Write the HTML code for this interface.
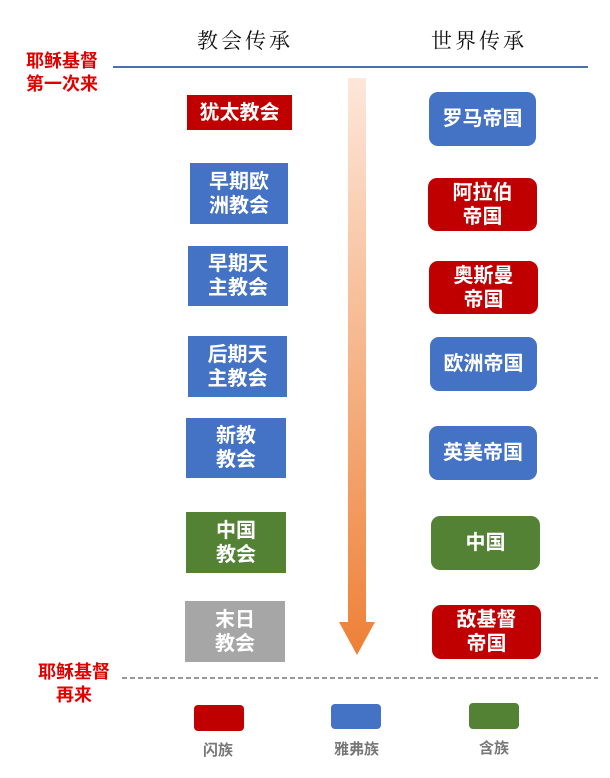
<!DOCTYPE html>
<html><head><meta charset="utf-8"><style>
body{margin:0;width:610px;height:778px;background:#fff;position:relative;overflow:hidden;font-family:"Liberation Sans","Noto Sans CJK SC",sans-serif}
.a{position:absolute}
.b{position:absolute;color:#fff;font-weight:bold;font-size:20px;line-height:24px;display:flex;align-items:center;justify-content:center;text-align:center}
.r{border-radius:9px}
.red{background:#c00000}.blue{background:#4472c4}.green{background:#548235}.gray{background:#a6a6a6}
.h{font-family:"Noto Serif CJK SC",serif;font-size:21px;letter-spacing:3px;color:#111}
.rt{color:#e00000;font-weight:bold;font-size:18px;line-height:23px;text-align:center}
.lg{color:#777;font-size:15px;font-weight:bold}
</style></head><body>
<div class="a h" style="left:197px;top:25px">教会传承</div>
<div class="a h" style="left:431px;top:25px">世界传承</div>
<div class="a rt" style="left:24px;top:50px;width:76px">耶稣基督<br>第一次来</div>
<div class="a" style="left:113px;top:66px;width:475px;height:2px;background:#4a72a8"></div>

<div class="b red" style="left:187px;top:95px;width:105px;height:35px">犹太教会</div>
<div class="b blue" style="left:190px;top:163px;width:98px;height:61px">早期欧<br>洲教会</div>
<div class="b blue" style="left:188px;top:246px;width:100px;height:60px">早期天<br>主教会</div>
<div class="b blue" style="left:188px;top:336px;width:99px;height:61px">后期天<br>主教会</div>
<div class="b blue" style="left:186px;top:418px;width:100px;height:60px">新教<br>教会</div>
<div class="b green" style="left:186px;top:512px;width:100px;height:61px">中国<br>教会</div>
<div class="b gray" style="left:185px;top:601px;width:100px;height:61px">末日<br>教会</div>

<div class="b blue r" style="left:429px;top:92px;width:107px;height:54px">罗马帝国</div>
<div class="b red r" style="left:428px;top:178px;width:109px;height:53px">阿拉伯<br>帝国</div>
<div class="b red r" style="left:429px;top:261px;width:109px;height:53px">奥斯曼<br>帝国</div>
<div class="b blue r" style="left:430px;top:337px;width:107px;height:54px">欧洲帝国</div>
<div class="b blue r" style="left:429px;top:426px;width:108px;height:54px">英美帝国</div>
<div class="b green r" style="left:431px;top:516px;width:109px;height:54px">中国</div>
<div class="b red r" style="left:432px;top:605px;width:109px;height:54px">敌基督<br>帝国</div>

<svg class="a" style="left:0;top:0" width="610" height="778">
<defs><linearGradient id="g" x1="0" y1="0" x2="0" y2="1"><stop offset="0" stop-color="#fde7da"/><stop offset="1" stop-color="#ee8036"/></linearGradient></defs>
<path d="M348 78 H366 V622 H375 L357 655 L339 622 H348 Z" fill="url(#g)"/>
<line x1="122" y1="678" x2="598" y2="678" stroke="#777" stroke-width="1.5" stroke-dasharray="5,3"/>
</svg>
<div class="a rt" style="left:36px;top:661px;width:76px">耶稣基督<br>再来</div>

<div class="a red" style="left:194px;top:705px;width:50px;height:26px;border-radius:4px"></div>
<div class="a blue" style="left:331px;top:704px;width:50px;height:25px;border-radius:4px"></div>
<div class="a green" style="left:469px;top:703px;width:50px;height:26px;border-radius:4px"></div>
<div class="a lg" style="left:203px;top:739px">闪族</div>
<div class="a lg" style="left:334px;top:738px">雅弗族</div>
<div class="a lg" style="left:479px;top:737px">含族</div>
</body></html>
